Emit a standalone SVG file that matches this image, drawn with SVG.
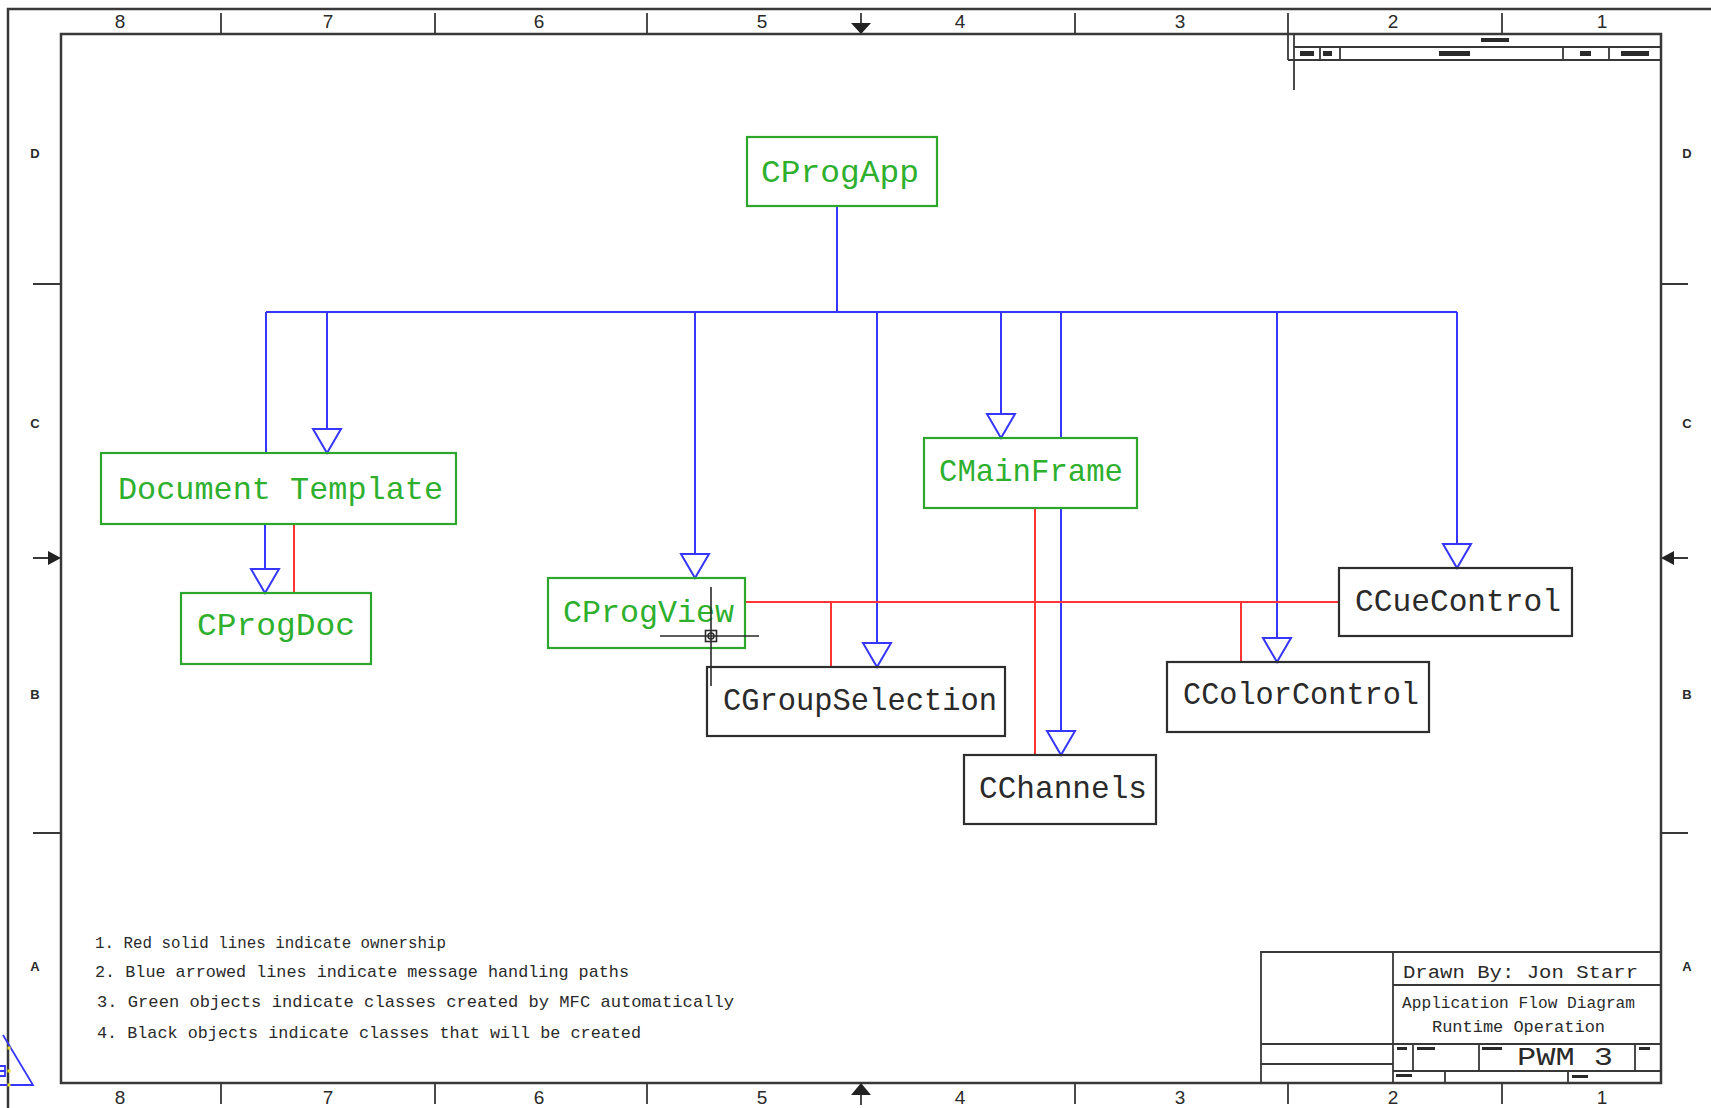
<svg xmlns="http://www.w3.org/2000/svg" width="1711" height="1108" viewBox="0 0 1711 1108">
  <style>
    .frame { fill: none; stroke: #383838; stroke-width: 2.5; }
    .thin { fill: none; stroke: #383838; stroke-width: 1.8; }
    .zone { font-family: "Liberation Sans", Arial, sans-serif; font-size: 19px; fill: #2a2a2a; text-anchor: middle; }
    .row { font-family: "Liberation Sans", Arial, sans-serif; font-size: 13px; font-weight: bold; fill: #2a2a2a; text-anchor: middle; }
    .gbox { fill: none; stroke: #2ca62c; stroke-width: 2.2; }
    .kbox { fill: none; stroke: #2e2e2e; stroke-width: 2.2; }
    .gtxt { font-family: "Liberation Mono", "DejaVu Sans Mono", monospace; font-size: 32px; fill: #2eb02e; }
    .ktxt { font-family: "Liberation Mono", "DejaVu Sans Mono", monospace; font-size: 32px; fill: #2a2a2a; }
    .blue { fill: none; stroke: #3636ff; stroke-width: 2; }
    .red { fill: none; stroke: #ff3434; stroke-width: 2; }
    .note { font-family: "Liberation Mono", "DejaVu Sans Mono", monospace; font-size: 17px; fill: #2a2a2a; }
    .tb { font-family: "Liberation Mono", "DejaVu Sans Mono", monospace; fill: #2a2a2a; }
    .blob { fill: #2a2a2a; }
  </style>
  <defs>
    <marker id="hollow" markerUnits="userSpaceOnUse" viewBox="-16 -26 32 28" markerWidth="32" markerHeight="28" refX="0" refY="0" orient="0">
      <path d="M-14,-24 L14,-24 L0,0 Z" fill="#ffffff" stroke="#3636ff" stroke-width="2"/>
    </marker>
  </defs>

  <rect x="0" y="0" width="1711" height="1108" fill="#ffffff"/>

  <!-- drawing sheet border -->
  <g id="sheet">
    <path class="frame" d="M8,1108 V9 H1711"/>
    <rect class="frame" x="61" y="34" width="1600" height="1049"/>
    <!-- column ticks, top and bottom -->
    <path class="thin" d="M221,13 V34 M435,13 V34 M647,13 V34 M1075,13 V34 M1288,13 V60 M1502,13 V34"/>
    <path class="thin" d="M221,1083 V1104 M435,1083 V1104 M647,1083 V1104 M1075,1083 V1104 M1288,1083 V1104 M1502,1083 V1104"/>
    <!-- row ticks, left and right -->
    <path class="thin" d="M33,284 H61 M33,833 H61 M1661,284 H1688 M1661,833 H1688"/>
    <!-- centring arrows -->
    <path class="thin" d="M861,13 V24 M861,1094 V1105 M33,558 H50 M1672,558 H1688"/>
    <path fill="#222" d="M851,23 H871 L861,34 Z M851,1095 H871 L861,1083 Z M48,551 V565 L61,558 Z M1674,551 V565 L1661,558 Z"/>
    <text class="zone" x="120" y="28">8</text>
    <text class="zone" x="328" y="28">7</text>
    <text class="zone" x="539" y="28">6</text>
    <text class="zone" x="762" y="28">5</text>
    <text class="zone" x="960" y="28">4</text>
    <text class="zone" x="1180" y="28">3</text>
    <text class="zone" x="1393" y="28">2</text>
    <text class="zone" x="1602" y="28">1</text>
    <text class="zone" x="120" y="1104">8</text>
    <text class="zone" x="328" y="1104">7</text>
    <text class="zone" x="539" y="1104">6</text>
    <text class="zone" x="762" y="1104">5</text>
    <text class="zone" x="960" y="1104">4</text>
    <text class="zone" x="1180" y="1104">3</text>
    <text class="zone" x="1393" y="1104">2</text>
    <text class="zone" x="1602" y="1104">1</text>
    <text class="row" x="35" y="158">D</text>
    <text class="row" x="35" y="428">C</text>
    <text class="row" x="35" y="699">B</text>
    <text class="row" x="35" y="971">A</text>
    <text class="row" x="1687" y="158">D</text>
    <text class="row" x="1687" y="428">C</text>
    <text class="row" x="1687" y="699">B</text>
    <text class="row" x="1687" y="971">A</text>
  </g>

  <!-- small revision block, top right -->
  <g id="revision-block">
    <path class="thin" d="M1294,34 V90 M1294,47 H1661 M1288,60 H1661 M1320,47 V60 M1340,47 V60 M1563,47 V60 M1609,47 V60"/>
    <rect class="blob" x="1481" y="38" width="28" height="4"/>
    <rect class="blob" x="1300" y="51" width="14" height="5"/>
    <rect class="blob" x="1323" y="51" width="9" height="5"/>
    <rect class="blob" x="1439" y="51" width="31" height="5"/>
    <rect class="blob" x="1580" y="51" width="11" height="5"/>
    <rect class="blob" x="1621" y="51" width="28" height="5"/>
  </g>

  <!-- title block, bottom right -->
  <g id="title-block">
    <path class="thin" d="M1261,1083 V952 H1661 M1393,952 V1083 M1393,985 H1661 M1261,1044 H1661 M1261,1064 H1393 M1393,1071 H1661 M1413,1044 V1071 M1479,1044 V1071 M1635,1044 V1071 M1445,1071 V1083 M1568,1071 V1083"/>
    <text class="tb" x="1403" y="978" font-size="19" textLength="235" lengthAdjust="spacingAndGlyphs">Drawn By: Jon Starr</text>
    <text class="tb" x="1402" y="1008" font-size="16" textLength="233" lengthAdjust="spacingAndGlyphs">Application Flow Diagram</text>
    <text class="tb" x="1432" y="1032" font-size="16" textLength="173" lengthAdjust="spacingAndGlyphs">Runtime Operation</text>
    <text class="tb" x="1517" y="1065" font-size="26" textLength="96" lengthAdjust="spacingAndGlyphs">PWM 3</text>
    <rect class="blob" x="1397" y="1047" width="10" height="3"/>
    <rect class="blob" x="1417" y="1047" width="18" height="3"/>
    <rect class="blob" x="1482" y="1047" width="20" height="3"/>
    <rect class="blob" x="1639" y="1047" width="11" height="3"/>
    <rect class="blob" x="1396" y="1074" width="16" height="3"/>
    <rect class="blob" x="1572" y="1075" width="16" height="3"/>
  </g>

  <!-- connectors: blue = message routing, red = ownership -->
  <g id="connectors">
    <path class="blue" d="M837,206 V312 M266,312 H1457 M266,312 V453 M1061,312 V438"/>
    <path class="blue" marker-end="url(#hollow)" d="M327,312 V453"/>
    <path class="blue" marker-end="url(#hollow)" d="M695,312 V578"/>
    <path class="blue" marker-end="url(#hollow)" d="M877,312 V667"/>
    <path class="blue" marker-end="url(#hollow)" d="M1001,312 V438"/>
    <path class="blue" marker-end="url(#hollow)" d="M1061,508 V755"/>
    <path class="blue" marker-end="url(#hollow)" d="M1277,312 V662"/>
    <path class="blue" marker-end="url(#hollow)" d="M1457,312 V568"/>
    <path class="blue" marker-end="url(#hollow)" d="M265,524 V593"/>
    <path class="red" d="M294,524 V593 M745,602 H1339 M831,602 V667 M1035,508 V755 M1241,602 V662"/>
  </g>

  <!-- classes generated by MFC -->
  <g id="CProgApp">
    <rect class="gbox" x="747" y="137" width="190" height="69"/>
    <text class="gtxt" x="761" y="182" textLength="158" lengthAdjust="spacingAndGlyphs">CProgApp</text>
  </g>
  <g id="DocumentTemplate">
    <rect class="gbox" x="101" y="453" width="355" height="71"/>
    <text class="gtxt" x="118" y="499" textLength="325" lengthAdjust="spacingAndGlyphs">Document Template</text>
  </g>
  <g id="CProgDoc">
    <rect class="gbox" x="181" y="593" width="190" height="71"/>
    <text class="gtxt" x="197" y="635" textLength="158" lengthAdjust="spacingAndGlyphs">CProgDoc</text>
  </g>
  <g id="CProgView">
    <rect class="gbox" x="548" y="578" width="197" height="70"/>
    <text class="gtxt" x="563" y="622" textLength="171" lengthAdjust="spacingAndGlyphs">CProgView</text>
  </g>
  <g id="CMainFrame">
    <rect class="gbox" x="924" y="438" width="213" height="70"/>
    <text class="gtxt" x="939" y="481" textLength="184" lengthAdjust="spacingAndGlyphs">CMainFrame</text>
  </g>

  <!-- classes to be written -->
  <g id="CGroupSelection">
    <rect class="kbox" x="707" y="667" width="298" height="69"/>
    <text class="ktxt" x="723" y="710" textLength="274" lengthAdjust="spacingAndGlyphs">CGroupSelection</text>
  </g>
  <g id="CChannels">
    <rect class="kbox" x="964" y="755" width="192" height="69"/>
    <text class="ktxt" x="979" y="798" textLength="168" lengthAdjust="spacingAndGlyphs">CChannels</text>
  </g>
  <g id="CColorControl">
    <rect class="kbox" x="1167" y="662" width="262" height="70"/>
    <text class="ktxt" x="1183" y="704" textLength="236" lengthAdjust="spacingAndGlyphs">CColorControl</text>
  </g>
  <g id="CCueControl">
    <rect class="kbox" x="1339" y="568" width="233" height="68"/>
    <text class="ktxt" x="1355" y="611" textLength="206" lengthAdjust="spacingAndGlyphs">CCueControl</text>
  </g>

  <!-- editor crosshair cursor -->
  <g id="cursor" fill="none" stroke="#2a2a2a" stroke-width="1.6">
    <path d="M711,587 V686 M660,636 H759"/>
    <rect x="705.5" y="630.5" width="11" height="11"/>
    <circle cx="711" cy="636" r="3"/>
  </g>

  <!-- legend -->
  <g id="legend">
    <text class="note" x="95" y="948" textLength="351" lengthAdjust="spacingAndGlyphs">1. Red solid lines indicate ownership</text>
    <text class="note" x="95" y="977" textLength="534" lengthAdjust="spacingAndGlyphs">2. Blue arrowed lines indicate message handling paths</text>
    <text class="note" x="97" y="1007" textLength="637" lengthAdjust="spacingAndGlyphs">3. Green objects indicate classes created by MFC automatically</text>
    <text class="note" x="97" y="1038" textLength="544" lengthAdjust="spacingAndGlyphs">4. Black objects indicate classes that will be created</text>
  </g>

  <!-- UCS icon, lower left corner -->
  <g id="ucs">
    <path fill="none" stroke="#3636ff" stroke-width="1.8" d="M3,1035 L33,1085 H0 M0,1066 H5 V1076 H0 M0,1071 H5"/>
    <rect x="7.5" y="1046.5" width="3" height="3" fill="#e8e020"/>
    <rect x="7.5" y="1069.5" width="3" height="3" fill="#e8e020"/>
    <rect x="7.5" y="1083.5" width="3" height="3" fill="#e8e020"/>
  </g>
</svg>
